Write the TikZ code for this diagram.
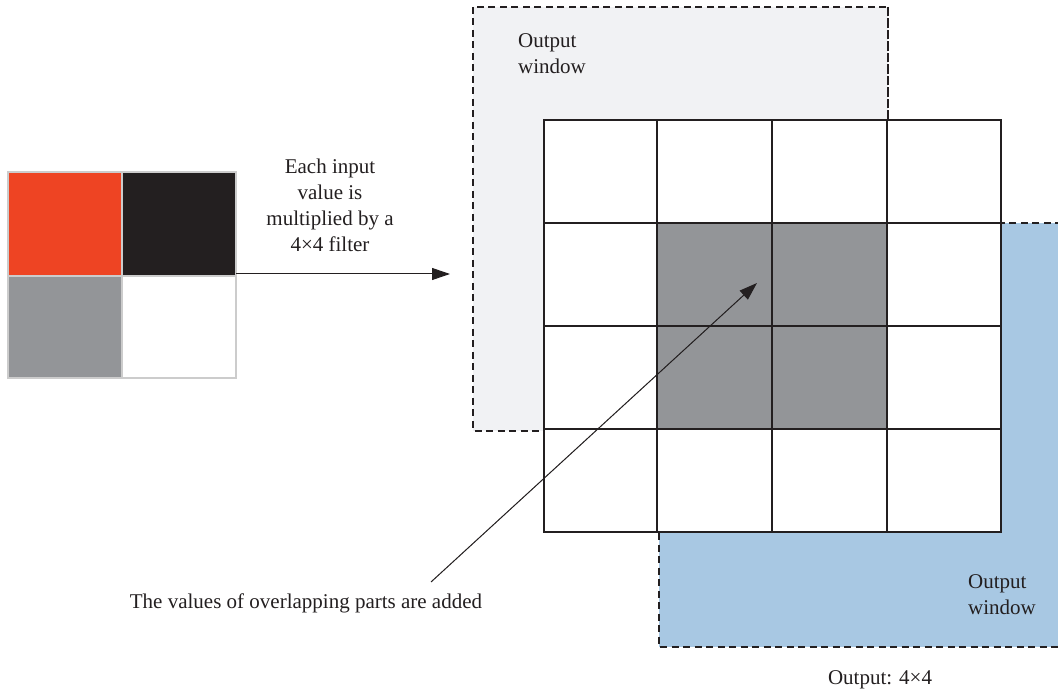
\documentclass[tikz,border=0pt]{standalone}
\usepackage{fontspec}
\setmainfont{Liberation Serif}
\usetikzlibrary{arrows.meta}
\definecolor{redc}{HTML}{EE4423}
\definecolor{blackc}{HTML}{231F20}
\definecolor{grayc}{HTML}{939598}
\definecolor{lightwin}{HTML}{F1F2F4}
\definecolor{bluewin}{HTML}{A8C8E3}
\definecolor{cellline}{HTML}{CCCCCC}
\definecolor{ink}{HTML}{231F20}
\begin{document}
\begin{tikzpicture}[x=1pt,y=-1pt,
  win/.style={dash pattern=on 7pt off 4.5pt, line width=1.3pt, draw=ink},
  cell/.style={draw=ink, line width=1.2pt},
  incell/.style={draw=cellline, line width=1.2pt},
  lbl/.style={font=\fontsize{21}{26}\selectfont, align=center, inner sep=0pt, text=ink},
  arr/.style={-{Triangle[length=18pt,width=12pt]}, line width=1pt, draw=ink, fill=ink}]
\useasboundingbox (0,0) rectangle (1058,692);
% input 2x2
\draw[incell, fill=redc]   (8,172)   rectangle (122,276);
\draw[incell, fill=blackc] (122,172) rectangle (236,276);
\draw[incell, fill=grayc]  (8,276)   rectangle (122,378);
\draw[incell, fill=white]  (122,276) rectangle (236,378);
\node[minimum width=228pt, minimum height=204pt, inner sep=0pt] (inp) at (122,274) {};
% output windows
\fill[lightwin] (473,7) rectangle (888,431);
\draw[win] (473,7) rectangle (888,431);
\fill[bluewin] (659,223) rectangle (1058,647);
\draw[win] (1062,223) -- (659,223) -- (659,647) -- (1062,647);
% grid
\fill[white] (544,120) rectangle (1001,532);
\fill[grayc] (657,223) rectangle (887,429);
\foreach \xa/\xb in {544/657,657/772,772/887,887/1001}
  \foreach \ya/\yb in {120/223,223/326,326/429,429/532}
    {\draw[cell] (\xa,\ya) rectangle (\xb,\yb);}
\draw[win] (888,7) -- (888,120);
% labels
\node[lbl] (mult) at (330,205) {Each input\\value is\\multiplied by a\\4×4 filter};
\node[lbl, align=left, anchor=west] (win1) at (518,54) {Output\\window};
\node[lbl, align=left, anchor=west] (win2) at (968,595) {Output\\window};
\node[lbl] (outl) at (880,680) {Output: 4×4};
\node[lbl] (added) at (306,603) {The values of overlapping parts are added};
% connectors
\coordinate (tip1) at (450,274);
\draw[arr] (inp.east) -- (tip1);
\coordinate (s2) at (431,582);
\coordinate (tip2) at (757,283);
\draw[arr] (s2) -- (tip2);
\end{tikzpicture}
\end{document}
